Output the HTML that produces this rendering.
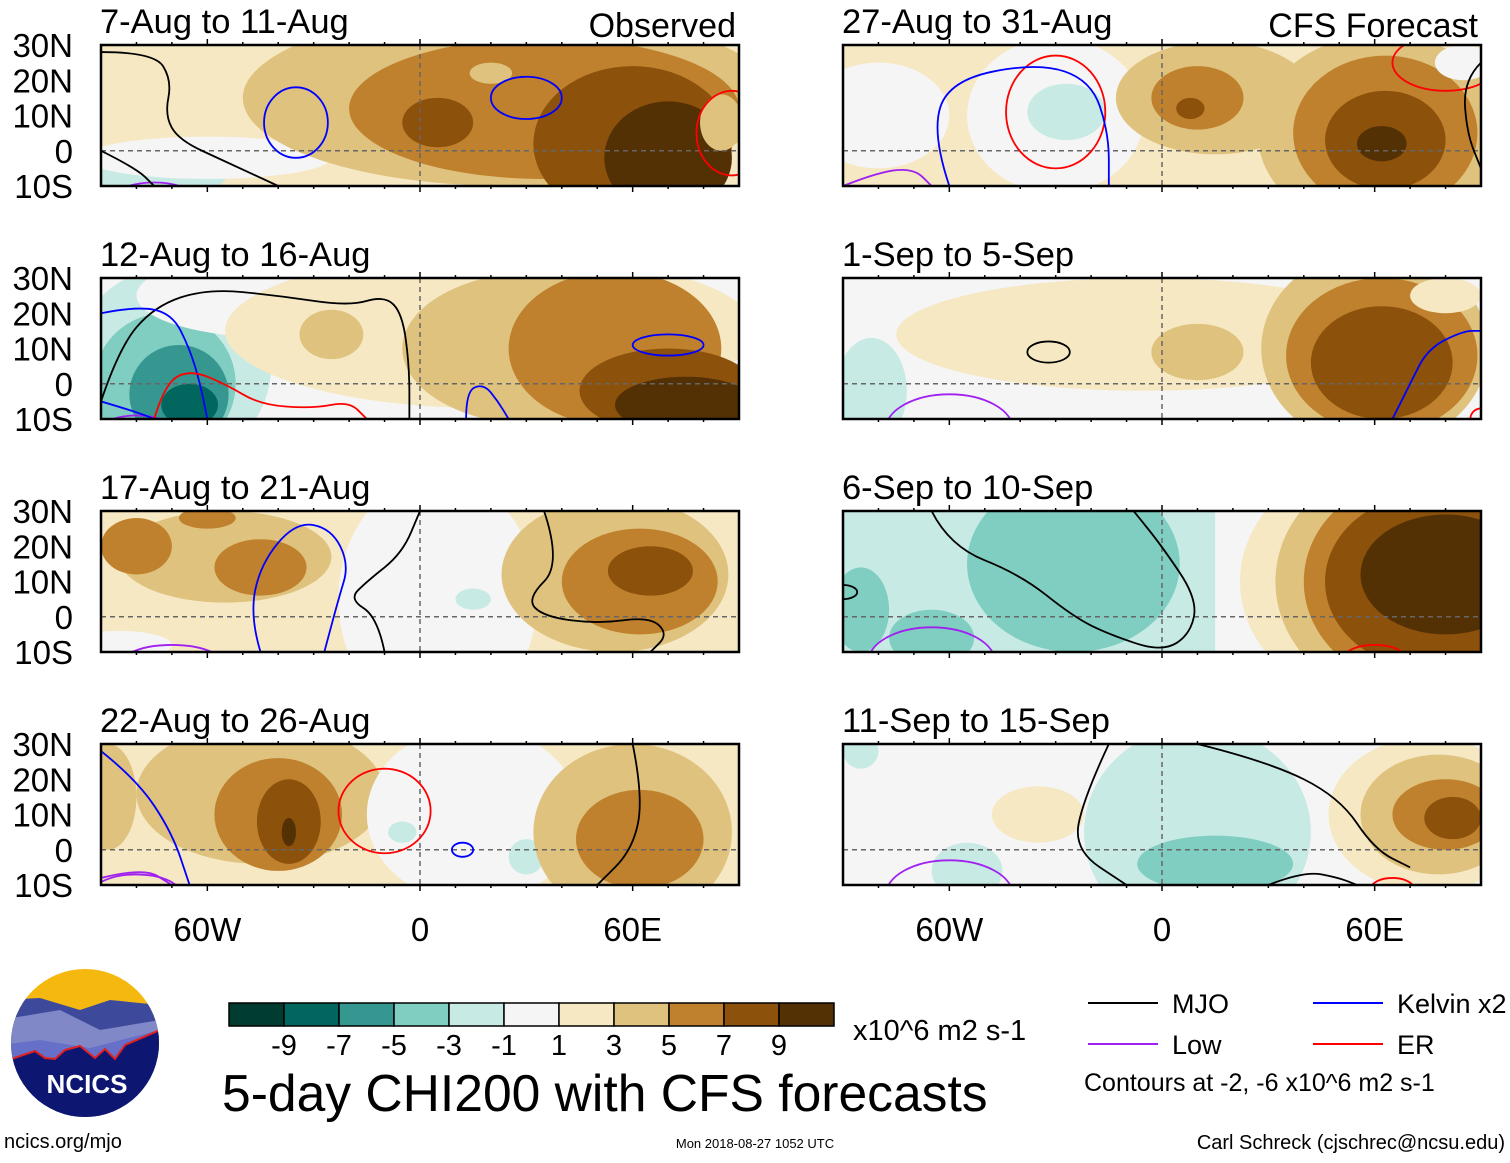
<!DOCTYPE html>
<html><head><meta charset="utf-8">
<style>
body{margin:0;background:#fff;width:1510px;height:1158px;overflow:hidden;font-family:"Liberation Sans",sans-serif}
svg text{font-family:"Liberation Sans",sans-serif}
</style></head>
<body>
<svg id="chart" width="1510" height="1158" xmlns="http://www.w3.org/2000/svg"></svg>
<script>
const levelColors=["#003c30","#01665e","#35978f","#80cdc1","#c7eae5","#f5f5f5","#f6e8c3","#dfc27d","#bf812d","#8c510a","#543005"];
const levelTicks=["-9","-7","-5","-3","-1","1","3","5","7","9"];
const panelTitles=["7-Aug to 11-Aug","12-Aug to 16-Aug","17-Aug to 21-Aug","22-Aug to 26-Aug","27-Aug to 31-Aug","1-Sep to 5-Sep","6-Sep to 10-Sep","11-Sep to 15-Sep"];
const panelBase=[6,5,6,6,6,5,4,5];
// blobs: [lon, lat, rxDeg, ryDeg, level]
const blobs0=[[-85,-8,30,5,4],[-60,-2,35,6,5],[25,15,75,25,7],[35,12,55,20,8],[60,2,28,22,9],[70,-2,18,16,10],[5,8,10,7,9],[-75,25,12,6,6],[20,22,6,3,7],[85,8,6,8,7]];
const blobs1=[[-85,20,25,15,5],[-70,5,28,28,4],[-72,0,20,20,3],[-68,-3,14,14,2],[-65,-6,8,6,1],[-40,25,40,12,5],[-5,5,10,20,5],[20,15,75,22,6],[-25,14,9,7,7],[35,10,40,22,7],[55,10,30,22,8],[70,-2,25,12,9],[75,-6,20,8,10]];
const blobs2=[[-55,17,30,13,7],[-45,14,13,8,8],[-80,20,10,8,8],[-60,28,8,3,8],[5,5,28,35,5],[15,5,5,3,4],[55,12,32,22,7],[62,10,22,15,8],[65,13,12,7,9],[-85,-8,15,4,5]];
const blobs3=[[-45,16,35,20,7],[-40,10,18,16,8],[-37,8,9,12,9],[-37,5,2,4,10],[15,10,30,25,5],[-5,5,4,3,4],[30,-2,5,5,4],[60,5,28,25,7],[62,3,18,14,8],[-88,15,8,15,7]];
const blobs4=[[-80,10,20,15,5],[-30,10,25,22,5],[-27,11,11,8,4],[15,15,28,16,7],[10,15,13,9,8],[8,12,4,3,9],[62,5,35,28,7],[63,5,26,22,8],[63,3,17,14,9],[62,2,7,5,10],[85,25,8,5,5]];
const blobs5=[[-5,14,70,16,6],[10,9,13,8,7],[60,10,32,28,7],[62,8,27,22,8],[62,6,20,16,9],[-82,-2,10,15,4],[80,25,10,5,6]];
const blobs6=[[-25,15,30,25,3],[-85,2,8,12,3],[-65,-6,12,8,3],[30,10,12,40,5],[70,10,48,38,6],[72,10,40,35,7],[74,10,34,30,8],[76,10,30,25,9],[80,12,24,17,10]];
const blobs7=[[10,5,32,30,4],[15,-4,22,8,3],[-55,-6,10,8,4],[-35,10,13,8,6],[-85,28,5,5,4],[75,10,28,22,6],[78,10,22,17,7],[80,10,15,10,8],[82,9,8,6,9]];
const panelBlobs=[blobs0,blobs1,blobs2,blobs3,blobs4,blobs5,blobs6,blobs7];
// closed contours: [type, lon, lat, rxDeg, ryDeg]  type: m=MJO k=Kelvin l=Low e=ER
const cont0=[["k",-35,8,9,10],["k",30,15,10,6],["e",88,5,10,12],["l",-75,-14,12,5],["e",-10,-14,4,4]];
const cont1=[["k",70,11,10,3],["l",-80,-13,10,4]];
const cont2=[["l",-70,-13,14,5]];
const cont3=[["e",-10,11,13,12],["k",12,0,3,2],["l",-80,-12,12,5]];
const cont4=[["e",-30,11,14,16],["e",80,25,15,8]];
const cont5=[["m",-32,9,6,3],["l",-60,-13,18,10],["e",90,-10,3,3]];
const cont6=[["m",-90,7,4,2],["l",-65,-13,18,10],["e",60,-11,8,3]];
const cont7=[["l",-60,-13,18,10],["e",65,-11,6,3]];
const panelContours=[cont0,cont1,cont2,cont3,cont4,cont5,cont6,cont7];
// open contours: [type, [lon,lat,...]]
const line0=[["m",[-90,28,-75,28,-70,20,-72,10,-68,3,-55,-3,-40,-10]],["m",[-90,0,-80,-5,-75,-10]]];
const line1=[["m",[-90,-5,-85,10,-75,22,-60,27,-40,25,-20,22,-10,25,-5,20,-3,5,-3,-10]],["k",[-90,20,-80,22,-70,20,-65,10,-62,0,-60,-10]],["e",[-75,-10,-72,0,-65,4,-55,0,-45,-6,-30,-7,-20,-5,-15,-10]],["k",[13,-10,13,-2,18,0,22,-5,25,-10]],["k",[-90,-5,-80,-8,-75,-10]]];
const line2=[["k",[-45,-10,-48,0,-45,15,-35,27,-25,25,-20,15,-23,5,-27,-10]],["m",[-10,-10,-12,0,-20,5,-15,10,-5,18,0,30]],["m",[35,30,40,15,30,5,35,0,50,-2,65,0,70,-5,65,-10]]];
const line3=[["k",[-90,28,-80,20,-70,5,-65,-10]],["m",[60,30,63,15,60,0,50,-10]],["l",[-90,-8,-78,-5,-70,-10]]];
const line4=[["k",[-60,-10,-65,5,-60,20,-35,25,-20,20,-15,5,-15,-10]],["l",[-90,-10,-80,-6,-70,-5,-65,-10]],["m",[90,25,85,20,86,5,90,-5]]];
const line5=[["k",[65,-10,70,0,75,10,85,15,90,15]]];
const line6=[["m",[-65,30,-60,20,-40,12,-25,0,-15,-5,0,-10,8,-5,10,5,0,20,-8,30]]];
const line7=[["m",[-15,30,-22,15,-25,0,-10,-10]],["m",[10,30,30,25,50,15,60,0,70,-5]],["m",[30,-10,40,-6,50,-8,55,-10]]];
const panelLines=[line0,line1,line2,line3,line4,line5,line6,line7];
const contColors={m:"#000000",k:"#0000ff",l:"#a020f0",e:"#ff0000"};
const latLabels=["30N","20N","10N","0","10S"];
const latVals=[30,20,10,0,-10];
const lonLabels=["60W","0","60E"];
const lonVals=[-60,0,60];

const NS="http://www.w3.org/2000/svg";
const svg=document.getElementById('chart');
function mk(tag,attrs,parent){const e=document.createElementNS(NS,tag);for(const k in attrs)e.setAttribute(k,attrs[k]);(parent||svg).appendChild(e);return e;}
function smooth(pts){let d='M'+pts[0][0]+','+pts[0][1];
  for(let i=1;i<pts.length-1;i++){const mx=(pts[i][0]+pts[i+1][0])/2,my=(pts[i][1]+pts[i+1][1])/2;d+=' Q'+pts[i][0]+','+pts[i][1]+' '+mx+','+my;}
  const l=pts[pts.length-1];d+=' L'+l[0]+','+l[1];return d;}
const PW=638,PH=141;
const colX=[101,843], rowY=[45,278,511,744];
for(let p=0;p<8;p++){
  const x0=colX[p<4?0:1], y0=rowY[p%4];
  const X=lon=>x0+(lon+90)*PW/180;
  const Y=lat=>y0+(30-lat)*PH/40;
  const g=mk('g',{});
  
  
  const cp=mk('clipPath',{id:'cp'+p},g);
  mk('rect',{x:x0,y:y0,width:PW,height:PH},cp);
  const inner=mk('g',{'clip-path':'url(#cp'+p+')'},g);
  const bg=mk('rect',{x:x0,y:y0,width:PW,height:PH,fill:levelColors[panelBase[p]]},inner);
  
  
  if(p===6){mk('rect',{x:X(15),y:y0,width:X(90)-X(15),height:PH,fill:levelColors[5]},inner);}
  panelBlobs[p].forEach(b=>{
    const e=mk('ellipse',{cx:X(b[0]),cy:Y(b[1]),rx:b[2]*PW/180,ry:b[3]*PH/40,fill:levelColors[b[4]]},inner);
    
    
  });
  mk('line',{x1:x0,x2:x0+PW,y1:Y(0),y2:Y(0),stroke:'#666','stroke-width':1.5,'stroke-dasharray':'5,4'},inner);
  mk('line',{x1:X(0),x2:X(0),y1:y0,y2:y0+PH,stroke:'#666','stroke-width':1.5,'stroke-dasharray':'5,4'},inner);
  panelContours[p].forEach(c=>{
    const e=mk('ellipse',{cx:X(c[1]),cy:Y(c[2]),rx:c[3]*PW/180,ry:c[4]*PH/40,fill:'none',stroke:contColors[c[0]],'stroke-width':1.8},inner);
    
    
  });
  panelLines[p].forEach(c=>{
    const pts=[];for(let i=0;i<c[1].length;i+=2)pts.push([X(c[1][i]),Y(c[1][i+1])]);
    const e=mk('path',{d:smooth(pts),fill:'none',stroke:contColors[c[0]],'stroke-width':1.8},inner);
    
    
  });
  mk('rect',{x:x0,y:y0,width:PW,height:PH,fill:'none',stroke:'#000','stroke-width':2.5},g);
  for(let lon=-80;lon<=80;lon+=10){const big=lonVals.includes(lon);
    mk('line',{x1:X(lon),x2:X(lon),y1:y0,y2:y0-(big?6:3),stroke:'#000','stroke-width':1.5},g);
    mk('line',{x1:X(lon),x2:X(lon),y1:y0+PH,y2:y0+PH+(big?6:3),stroke:'#000','stroke-width':1.5},g);}
  const t=mk('text',{x:x0-1,y:y0-12,'font-size':34.5,fill:'#000'},g);
  t.textContent=panelTitles[p];
  
  
  if(p<4){latVals.forEach((v,i)=>{const l=mk('text',{x:73,y:Y(v)+12,'font-size':33,'text-anchor':'end'},g);l.textContent=latLabels[i];
    
    });}
  if(p%4===3){lonVals.forEach((v,i)=>{const l=mk('text',{x:X(v),y:y0+PH+56,'font-size':33,'text-anchor':'middle'},g);l.textContent=lonLabels[i];
    
    });}
}
let tt=mk('text',{x:736,y:37,'font-size':34,'text-anchor':'end'});tt.textContent='Observed';


tt=mk('text',{x:1478,y:37,'font-size':34,'text-anchor':'end'});tt.textContent='CFS Forecast';


const cb=mk('g',{});


levelColors.forEach((c,i)=>{mk('rect',{x:229+i*55,y:1003,width:55,height:23,fill:c,stroke:'#000','stroke-width':1.5},cb);});
levelTicks.forEach((s,i)=>{const l=mk('text',{x:284+i*55,y:1055,'font-size':29,'text-anchor':'middle'},cb);l.textContent=s;
  
  });
tt=mk('text',{x:853,y:1040,'font-size':29});tt.textContent='x10^6 m2 s-1';


tt=mk('text',{x:222,y:1111,'font-size':51.6});tt.textContent='5-day CHI200 with CFS forecasts';


const lg=[["m",1088,1003,"MJO"],["k",1313,1003,"Kelvin x2"],["l",1088,1044,"Low"],["e",1313,1044,"ER"]];
lg.forEach(a=>{const g=mk('g',{});
  mk('line',{x1:a[1],x2:a[1]+70,y1:a[2],y2:a[2],stroke:contColors[a[0]],'stroke-width':2},g);
  const l=mk('text',{x:a[1]+84,y:a[2]+10,'font-size':27},g);l.textContent=a[3];});
tt=mk('text',{x:1084,y:1091,'font-size':25});tt.textContent='Contours at -2, -6 x10^6 m2 s-1';


tt=mk('text',{x:1505,y:1149,'font-size':20,'text-anchor':'end'});tt.textContent='Carl Schreck (cjschrec@ncsu.edu)';


tt=mk('text',{x:755,y:1148,'font-size':13,'text-anchor':'middle'});tt.textContent='Mon 2018-08-27 1052 UTC';


tt=mk('text',{x:4,y:1148,'font-size':20});tt.textContent='ncics.org/mjo';


const logo=mk('g',{});


const lc=mk('clipPath',{id:'lc'},logo);
mk('circle',{cx:85,cy:1043,r:74},lc);
const lgg=mk('g',{'clip-path':'url(#lc)'},logo);
mk('rect',{x:0,y:960,width:170,height:170,fill:'#f5b80e'},lgg);
mk('path',{d:'M0,1000 L40,998 L80,1010 L110,1000 L160,1005 L160,1130 L0,1130Z',fill:'#3d4a9c'},lgg);
mk('path',{d:'M0,1020 L60,1010 L100,1030 L160,1020 L160,1130 L0,1130Z',fill:'#8088c8'},lgg);
mk('path',{d:'M0,1045 L40,1040 L90,1048 L160,1030 L160,1130 L0,1130Z',fill:'#6670c8'},lgg);
mk('path',{d:'M0,1063 L35,1051 L45,1058 L55,1059 L65,1050 L80,1046 L95,1058 L105,1049 L115,1059 L125,1045 L160,1030 L160,1130 L0,1130Z',fill:'#0d1670',stroke:'#e02020','stroke-width':2},lgg);
tt=mk('text',{x:87,y:1093,'font-size':26,'font-weight':'bold','text-anchor':'middle',fill:'#fff'},logo);tt.textContent='NCICS';
</script>
</body></html>
